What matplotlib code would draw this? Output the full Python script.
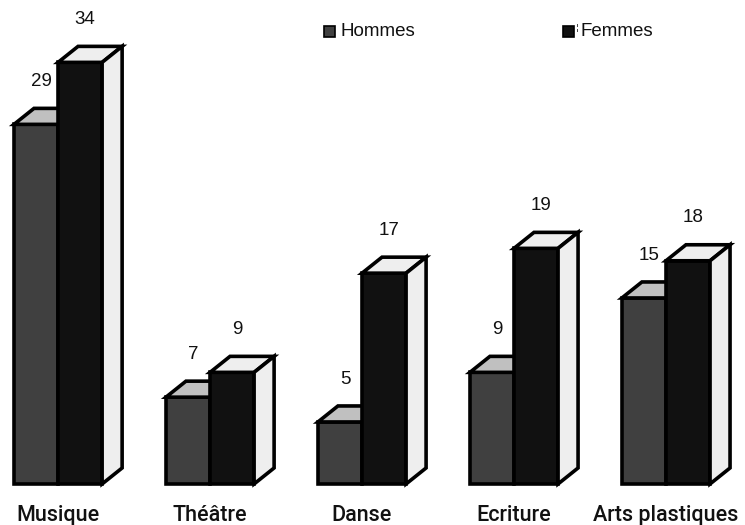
import matplotlib.pyplot as plt
from matplotlib.patches import Polygon, Rectangle

categories = ["Musique", "Théâtre", "Danse", "Ecriture", "Arts plastiques"]
hommes = [29, 7, 5, 9, 15]
femmes = [34, 9, 17, 19, 18]
series = ["Hommes", "Femmes"]

W, H = 745, 525
BAR_W = 0.29          # largeur d'une barre, en unités de groupe
X_LIM = (-0.382, 4.52)
Y_LIM = (-3.31, 39.03)

# profondeur de l'effet 3D, en pixels
DEPTH_PX = (20, 16)

fig = plt.figure(figsize=(W / 100, H / 100), dpi=100)
ax = fig.add_axes([0, 0, 1, 1])
ax.set_xlim(*X_LIM)
ax.set_ylim(*Y_LIM)
ax.axis("off")

dx = DEPTH_PX[0] * (X_LIM[1] - X_LIM[0]) / W
dy = DEPTH_PX[1] * (Y_LIM[1] - Y_LIM[0]) / H

EDGE = dict(edgecolor="black", linewidth=2.6, joinstyle="miter")


def barre3d(x0, v, face, top, side=None):
  x1 = x0 + BAR_W
  ax.add_patch(Polygon([(x0, 0), (x1, 0), (x1, v), (x0, v)],
                       facecolor=face, **EDGE, zorder=3))
  ax.add_patch(Polygon([(x0, v), (x1, v), (x1 + dx, v + dy), (x0 + dx, v + dy)],
                       facecolor=top, **EDGE, zorder=3))
  if side is not None:
    ax.add_patch(Polygon([(x1, 0), (x1 + dx, dy), (x1 + dx, v + dy), (x1, v)],
                         facecolor=side, **EDGE, zorder=3))


for i, (h, f) in enumerate(zip(hommes, femmes)):
  barre3d(i - BAR_W, h, "#404040", "#c0c0c0")
  barre3d(i, f, "#111111", "#eeeeee", "#eeeeee")
  ax.text(i - BAR_W / 2 + 0.033, h + 3.45, str(h), ha="center", va="center",
          fontsize=13.5, family="Liberation Sans", color="#111111")
  ax.text(i + BAR_W / 2 + 0.033, f + 3.45, str(f), ha="center", va="center",
          fontsize=13.5, family="Liberation Sans", color="#111111")
  ax.text(i, -2.95, categories[i], ha="center", va="baseline",
          fontsize=15.5, family="Roboto", weight="medium", color="#111111")

# légende
for (xp, face), nom in zip([(324, "#404040"), (563, "#111111")], series):
  fig.patches.append(Rectangle((xp / W, 1 - 37 / H), 11 / W, 11 / H,
                               facecolor=face, edgecolor="black", linewidth=1.2,
                               transform=fig.transFigure))
  fig.text((xp + 17) / W, 1 - 31 / H, nom, ha="left", va="center",
           fontsize=13.5, family="Liberation Sans", color="#111111")
fig.text(577 / W, 1 - 27 / H, "¦", ha="center", va="center", fontsize=6,
         family="DejaVu Sans", color="#111111")

fig.savefig("out.png", dpi=100)
